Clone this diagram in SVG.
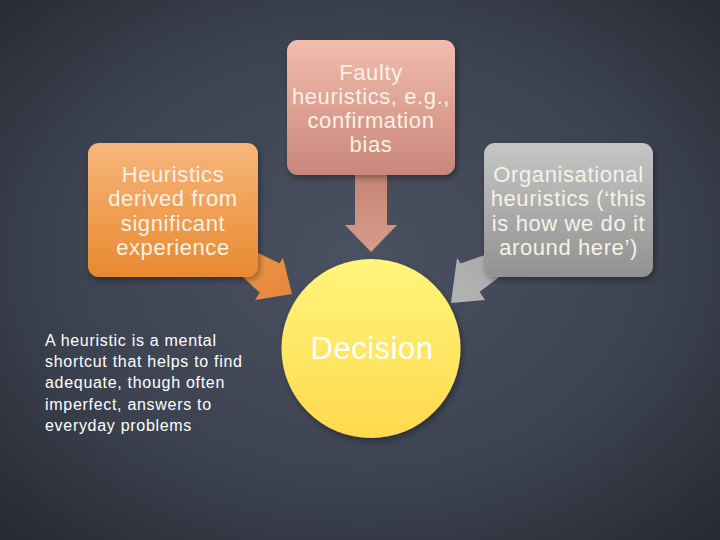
<svg xmlns="http://www.w3.org/2000/svg" width="720" height="540" viewBox="0 0 720 540">
<defs>
<radialGradient id="bg" cx="50%" cy="48%" r="70%">
<stop offset="0" stop-color="#4a5161"/>
<stop offset="0.6" stop-color="#3c4250"/>
<stop offset="1" stop-color="#272b33"/>
</radialGradient>
<linearGradient id="gTop" x1="0" y1="0" x2="0" y2="1">
<stop offset="0" stop-color="#f2bcab"/>
<stop offset="1" stop-color="#c8877a"/>
</linearGradient>
<linearGradient id="gLeft" x1="0" y1="0" x2="0" y2="1">
<stop offset="0" stop-color="#f7b67c"/>
<stop offset="1" stop-color="#e8892f"/>
</linearGradient>
<linearGradient id="gRight" x1="0" y1="0" x2="0" y2="1">
<stop offset="0" stop-color="#c6c6c6"/>
<stop offset="1" stop-color="#919191"/>
</linearGradient>
<linearGradient id="gCirc" x1="0" y1="0" x2="0" y2="1">
<stop offset="0" stop-color="#fff57c"/>
<stop offset="1" stop-color="#ffd94d"/>
</linearGradient>
<linearGradient id="gArrTop" x1="0" y1="0" x2="0" y2="1">
<stop offset="0" stop-color="#c48474"/>
<stop offset="1" stop-color="#d79b89"/>
</linearGradient>
<linearGradient id="gArrLeft" x1="0" y1="0" x2="1" y2="1">
<stop offset="0" stop-color="#ee9a4c"/>
<stop offset="1" stop-color="#e5863a"/>
</linearGradient>
<linearGradient id="gArrRight" x1="1" y1="0" x2="0" y2="1">
<stop offset="0" stop-color="#a8a8a8"/>
<stop offset="1" stop-color="#b4b4b4"/>
</linearGradient>
<filter id="sh" x="-10%" y="-10%" width="130%" height="130%">
<feDropShadow dx="2" dy="3" stdDeviation="3" flood-color="#000" flood-opacity="0.35"/>
</filter>
</defs>
<style>
.bt{font-family:"Liberation Sans",Arial,sans-serif;font-size:22px;fill:#f7f1e6;text-anchor:middle;letter-spacing:0.6px}
.note{font-family:"Liberation Sans",Arial,sans-serif;font-size:16px;fill:#ffffff;letter-spacing:0.7px}
.dec{font-family:"Liberation Sans",Arial,sans-serif;font-size:31px;fill:#ffffff;text-anchor:middle;letter-spacing:0.5px}
</style>
<rect x="0" y="0" width="720" height="540" fill="url(#bg)"/>

<g id="connectors">
<polygon points="355,170 387,170 387,225 397,225 371,252 345,225 355,225" fill="url(#gArrTop)"/>
<polygon points="237,243 279.5,263.2 283,258 292,294 255,300 259.8,292.8 226,261" fill="url(#gArrLeft)"/>
<polygon points="505,248 460.6,263.5 457,258 451,303 485,300 479.6,291.8 514,266" fill="url(#gArrRight)"/>
</g>

<g id="node-faulty">
<rect x="287" y="40" width="168" height="135" rx="11" fill="url(#gTop)" filter="url(#sh)"/>
<text class="bt" x="371" y="80">Faulty</text>
<text class="bt" x="371" y="104">heuristics, e.g.,</text>
<text class="bt" x="371" y="128">confirmation</text>
<text class="bt" x="371" y="152">bias</text>
</g>

<g id="node-experience">
<rect x="88" y="143" width="170" height="134" rx="11" fill="url(#gLeft)" filter="url(#sh)"/>
<text class="bt" x="173" y="181.5">Heuristics</text>
<text class="bt" x="173" y="206">derived from</text>
<text class="bt" x="173" y="230.5">significant</text>
<text class="bt" x="173" y="255">experience</text>
</g>

<g id="node-organisational">
<rect x="484" y="143" width="169" height="134" rx="11" fill="url(#gRight)" filter="url(#sh)"/>
<text class="bt" x="568.5" y="181.5">Organisational</text>
<text class="bt" x="568.5" y="206">heuristics (‘this</text>
<text class="bt" x="568.5" y="230.5">is how we do it</text>
<text class="bt" x="568.5" y="255">around here’)</text>
</g>

<g id="node-decision">
<circle cx="371" cy="348.5" r="89.5" fill="url(#gCirc)" filter="url(#sh)"/>
<text class="dec" x="372" y="359">Decision</text>
</g>

<g id="note">
<text class="note" x="45" y="346">A heuristic is a mental</text>
<text class="note" x="45" y="367.2">shortcut that helps to find</text>
<text class="note" x="45" y="388.4">adequate, though often</text>
<text class="note" x="45" y="409.6">imperfect, answers to</text>
<text class="note" x="45" y="430.8">everyday problems</text>
</g>
</svg>
